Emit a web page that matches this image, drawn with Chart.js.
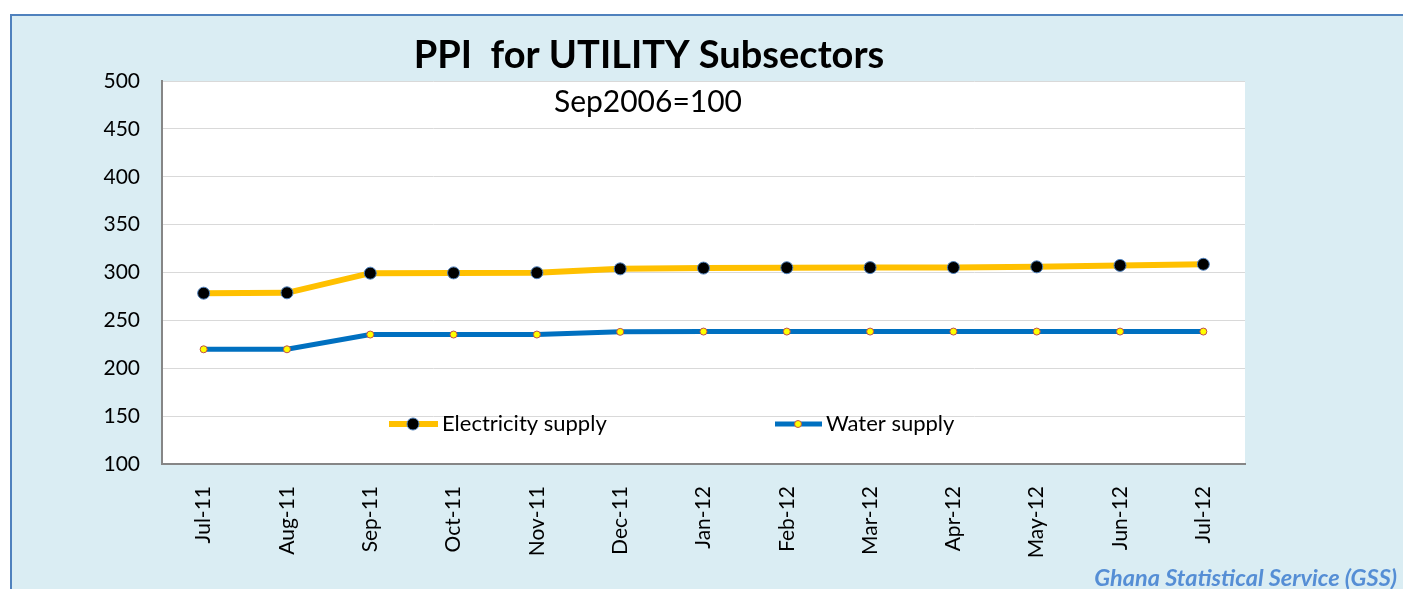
<!DOCTYPE html>
<html>
<head>
<meta charset="utf-8">
<script src="https://cdn.jsdelivr.net/npm/chart.js@4/dist/chart.umd.min.js"></script>
<style>
  html, body { margin: 0; padding: 0; background: #ffffff; }
  #wrap { width: 1403px; height: 589px; }
</style>
</head>
<body>
<div id="wrap"><canvas id="c" width="1403" height="589"></canvas></div>
<script>
const categories = ['Jul-11','Aug-11','Sep-11','Oct-11','Nov-11','Dec-11','Jan-12','Feb-12','Mar-12','Apr-12','May-12','Jun-12','Jul-12'];
const electricitySupply = [278.4, 278.8, 299.3, 299.6, 299.8, 303.8, 304.6, 305.0, 305.1, 305.2, 305.9, 307.4, 308.6];
const waterSupply = [219.8, 219.8, 235.2, 235.2, 235.2, 238.0, 238.3, 238.3, 238.3, 238.3, 238.3, 238.3, 238.3];
const yTicks = [100, 150, 200, 250, 300, 350, 400, 450, 500];
const seriesNames = ['Electricity supply', 'Water supply'];
const titleText = 'PPI  for UTILITY Subsectors';
const subtitleText = 'Sep2006=100';
const sourceText = 'Ghana Statistical Service (GSS)';

const FONT = 'Lato, "Open Sans", sans-serif';

const backgroundPlugin = {
  id: 'bgPlugin',
  beforeDraw(chart) {
    const ctx = chart.ctx;
    const ca = chart.chartArea;
    ctx.save();
    ctx.fillStyle = '#ffffff';
    ctx.fillRect(0, 0, chart.width, chart.height);
    ctx.fillStyle = '#DAEDF3';
    ctx.fillRect(11, 15, chart.width, chart.height);
    ctx.strokeStyle = '#4F81BD';
    ctx.lineWidth = 2;
    ctx.beginPath();
    ctx.moveTo(11, chart.height + 2);
    ctx.lineTo(11, 15);
    ctx.lineTo(chart.width + 2, 15);
    ctx.stroke();
    ctx.fillStyle = '#ffffff';
    ctx.fillRect(ca.left, ca.top, ca.right - ca.left, ca.bottom - ca.top);
    ctx.restore();
  }
};

const textPlugin = {
  id: 'textPlugin',
  afterDraw(chart) {
    const ctx = chart.ctx;
    ctx.save();
    ctx.fillStyle = '#000000';
    ctx.textAlign = 'center';
    ctx.textBaseline = 'alphabetic';
    ctx.font = 'bold 38px ' + FONT;
    ctx.fillText(titleText, 649, 68);
    ctx.font = '30px ' + FONT;
    ctx.fillText(subtitleText, 648, 112);
    ctx.font = 'italic bold 23.5px ' + FONT;
    ctx.fillStyle = '#558ED5';
    ctx.textAlign = 'right';
    ctx.fillText(sourceText, 1397, 586);

    // legend
    const items = [
      {ds: chart.data.datasets[0], x0: 389, x1: 438, mx: 413, tx: 442},
      {ds: chart.data.datasets[1], x0: 775, x1: 822, mx: 798, tx: 826}
    ];
    const ly = 424;
    items.forEach(it => {
      const ds = it.ds;
      ctx.strokeStyle = ds.borderColor;
      ctx.lineWidth = ds.borderWidth;
      ctx.beginPath();
      ctx.moveTo(it.x0, ly);
      ctx.lineTo(it.x1, ly);
      ctx.stroke();
      ctx.beginPath();
      ctx.arc(it.mx, ly, ds.pointRadius, 0, Math.PI * 2);
      ctx.fillStyle = ds.pointBackgroundColor;
      ctx.fill();
      ctx.lineWidth = ds.pointBorderWidth;
      ctx.strokeStyle = ds.pointBorderColor;
      ctx.stroke();
      ctx.fillStyle = '#000000';
      ctx.font = '22px ' + FONT;
      ctx.textAlign = 'left';
      ctx.textBaseline = 'middle';
      ctx.fillText(ds.label, it.tx, ly);
    });
    ctx.restore();
  }
};

new Chart(document.getElementById('c'), {
  type: 'line',
  data: {
    labels: categories,
    datasets: [
      {
        label: seriesNames[0],
        data: electricitySupply,
        borderColor: '#FFC000',
        borderWidth: 6,
        pointRadius: 6,
        pointBackgroundColor: '#000000',
        pointBorderColor: '#4F81BD',
        pointBorderWidth: 1,
        tension: 0
      },
      {
        label: seriesNames[1],
        data: waterSupply,
        borderColor: '#0070C0',
        borderWidth: 5,
        pointRadius: 3.5,
        pointBackgroundColor: '#FFFF00',
        pointBorderColor: '#C0504D',
        pointBorderWidth: 1,
        tension: 0
      }
    ]
  },
  options: {
    responsive: false,
    animation: false,
    devicePixelRatio: 1,
    layout: { padding: { left: 0, top: 81, right: 158, bottom: 0 } },
    plugins: {
      legend: { display: false },
      title: { display: false },
      tooltip: { enabled: false }
    },
    scales: {
      x: {
        offset: true,
        grid: { display: false, drawTicks: false },
        border: { display: true, color: '#868686', width: 2 },
        ticks: {
          autoSkip: false,
          minRotation: 90,
          maxRotation: 90,
          padding: 22,
          color: '#000000',
          font: { family: FONT, size: 21 }
        },
        afterFit(scale) { scale.height = 125; }
      },
      y: {
        min: 100,
        max: 500,
        afterBuildTicks(scale) { scale.ticks = yTicks.map(v => ({ value: v })); },
        grid: { color: '#D9D9D9', lineWidth: 1, drawTicks: false },
        border: { display: true, color: '#868686', width: 2 },
        ticks: {
          padding: 22,
          color: '#000000',
          font: { family: FONT, size: 21 }
        },
        afterFit(scale) { scale.width = 162; }
      }
    }
  },
  plugins: [backgroundPlugin, textPlugin]
});
</script>
</body>
</html>
